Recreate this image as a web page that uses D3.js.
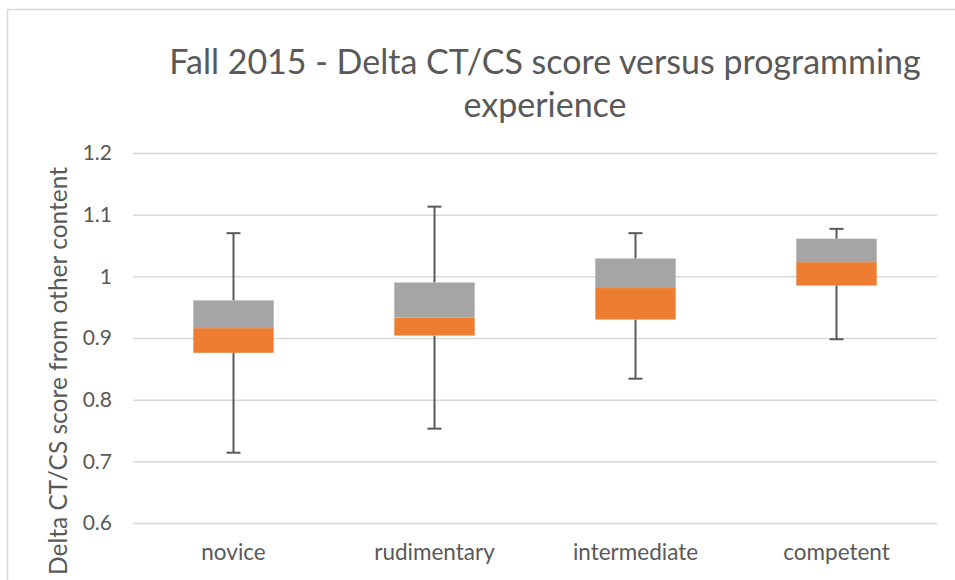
<!DOCTYPE html>
<html>
<head>
<meta charset="utf-8">
<script src="https://cdn.jsdelivr.net/npm/d3@7"></script>
<style>
  body { margin: 0; background: #fff; }
  svg { display: block; font-family: Lato, "Open Sans", sans-serif; }
</style>
</head>
<body>
<div class="chart"></div>
<script>
document.addEventListener('DOMContentLoaded', () => {

const categories = ['novice', 'rudimentary', 'intermediate', 'competent']
const mins    = [0.714, 0.753, 0.834, 0.898]
const q1s     = [0.876, 0.904, 0.930, 0.985]
const medians = [0.916, 0.933, 0.981, 1.023]
const q3s     = [0.961, 0.990, 1.029, 1.061]
const maxs    = [1.070, 1.113, 1.070, 1.077]
const yTicks  = [0.6, 0.7, 0.8, 0.9, 1, 1.1, 1.2]
const yTickLabels = ['0.6', '0.7', '0.8', '0.9', '1', '1.1', '1.2']

let w = 955,
    h = 580

const margin = {left: 133, right: 18, top: 153, bottom: 57}
const txt = '#595959'

const svg = d3.select('.chart')
              .append('svg')
              .attr('width', w)
              .attr('height', h)

// outer chart frame (only top and left edges are visible)
svg.append('rect')
   .attr('x', 7.5)
   .attr('y', 9.5)
   .attr('width', w + 20)
   .attr('height', h + 20)
   .attr('fill', '#fff')
   .attr('stroke', '#d9d9d9')
   .attr('stroke-width', 1.5)

const x = d3.scaleBand()
            .domain(categories)
            .range([margin.left, w - margin.right])
            .paddingInner(0.6)
            .paddingOuter(0.3)

const y = d3.scaleLinear()
            .domain([0.6, 1.2])
            .range([h - margin.bottom, margin.top])

// gridlines + tick labels
const yAxis = svg.append('g')
                 .attr('transform', `translate(${margin.left},0)`)
                 .call(d3.axisLeft(y)
                         .tickValues(yTicks)
                         .tickSize(-(w - margin.left - margin.right))
                         .tickPadding(21)
                         .tickFormat((d, i) => yTickLabels[i]))
yAxis.select('.domain').remove()
yAxis.selectAll('line').attr('stroke', '#d9d9d9').attr('stroke-width', 1.5)
yAxis.selectAll('text')
     .attr('fill', txt)
     .style('font-size', '21px')
     .style('font-family', 'Lato, "Open Sans", sans-serif')

// category labels
const xAxis = svg.append('g')
                 .attr('transform', `translate(0,${h - margin.bottom})`)
                 .call(d3.axisBottom(x).tickSize(0).tickPadding(21))
xAxis.select('.domain').remove()
xAxis.selectAll('text')
     .attr('fill', txt)
     .style('font-size', '22.5px')
     .style('font-family', 'Lato, "Open Sans", sans-serif')

const boxes = categories.map((c, i) => ({
  cat: c, min: mins[i], q1: q1s[i], med: medians[i], q3: q3s[i], max: maxs[i]
}))

const g = svg.append('g')
const cx = d => x(d.cat) + x.bandwidth() / 2
const cap = 7

// whiskers
g.selectAll('.whisk-lo').data(boxes).enter().append('line')
 .attr('x1', cx).attr('x2', cx)
 .attr('y1', d => y(d.min)).attr('y2', d => y(d.q1))
 .attr('stroke', txt).attr('stroke-width', 2)
g.selectAll('.whisk-hi').data(boxes).enter().append('line')
 .attr('x1', cx).attr('x2', cx)
 .attr('y1', d => y(d.q3)).attr('y2', d => y(d.max))
 .attr('stroke', txt).attr('stroke-width', 2)
g.selectAll('.cap-lo').data(boxes).enter().append('line')
 .attr('x1', d => cx(d) - cap).attr('x2', d => cx(d) + cap)
 .attr('y1', d => y(d.min)).attr('y2', d => y(d.min))
 .attr('stroke', txt).attr('stroke-width', 2)
g.selectAll('.cap-hi').data(boxes).enter().append('line')
 .attr('x1', d => cx(d) - cap).attr('x2', d => cx(d) + cap)
 .attr('y1', d => y(d.max)).attr('y2', d => y(d.max))
 .attr('stroke', txt).attr('stroke-width', 2)

// lower box (orange)
g.selectAll('.box-lo').data(boxes).enter().append('rect')
 .attr('x', d => x(d.cat))
 .attr('width', x.bandwidth())
 .attr('y', d => y(d.med))
 .attr('height', d => y(d.q1) - y(d.med))
 .attr('fill', '#ed7d31')

// upper box (grey)
g.selectAll('.box-hi').data(boxes).enter().append('rect')
 .attr('x', d => x(d.cat))
 .attr('width', x.bandwidth())
 .attr('y', d => y(d.q3))
 .attr('height', d => y(d.med) - y(d.q3))
 .attr('fill', '#a5a5a5')

// title
const title = svg.append('text')
                 .attr('text-anchor', 'middle')
                 .attr('fill', txt)
                 .style('font-size', '34px')
title.append('tspan').attr('x', 545).attr('y', 74)
     .text('Fall 2015 - Delta CT/CS score versus programming')
title.append('tspan').attr('x', 545).attr('y', 117)
     .text('experience')

// y axis title
svg.append('text')
   .attr('transform', 'translate(67,371) rotate(-90)')
   .attr('text-anchor', 'middle')
   .attr('fill', txt)
   .style('font-size', '24.5px')
   .text('Delta CT/CS score from other content')

})
</script>
</body>
</html>
